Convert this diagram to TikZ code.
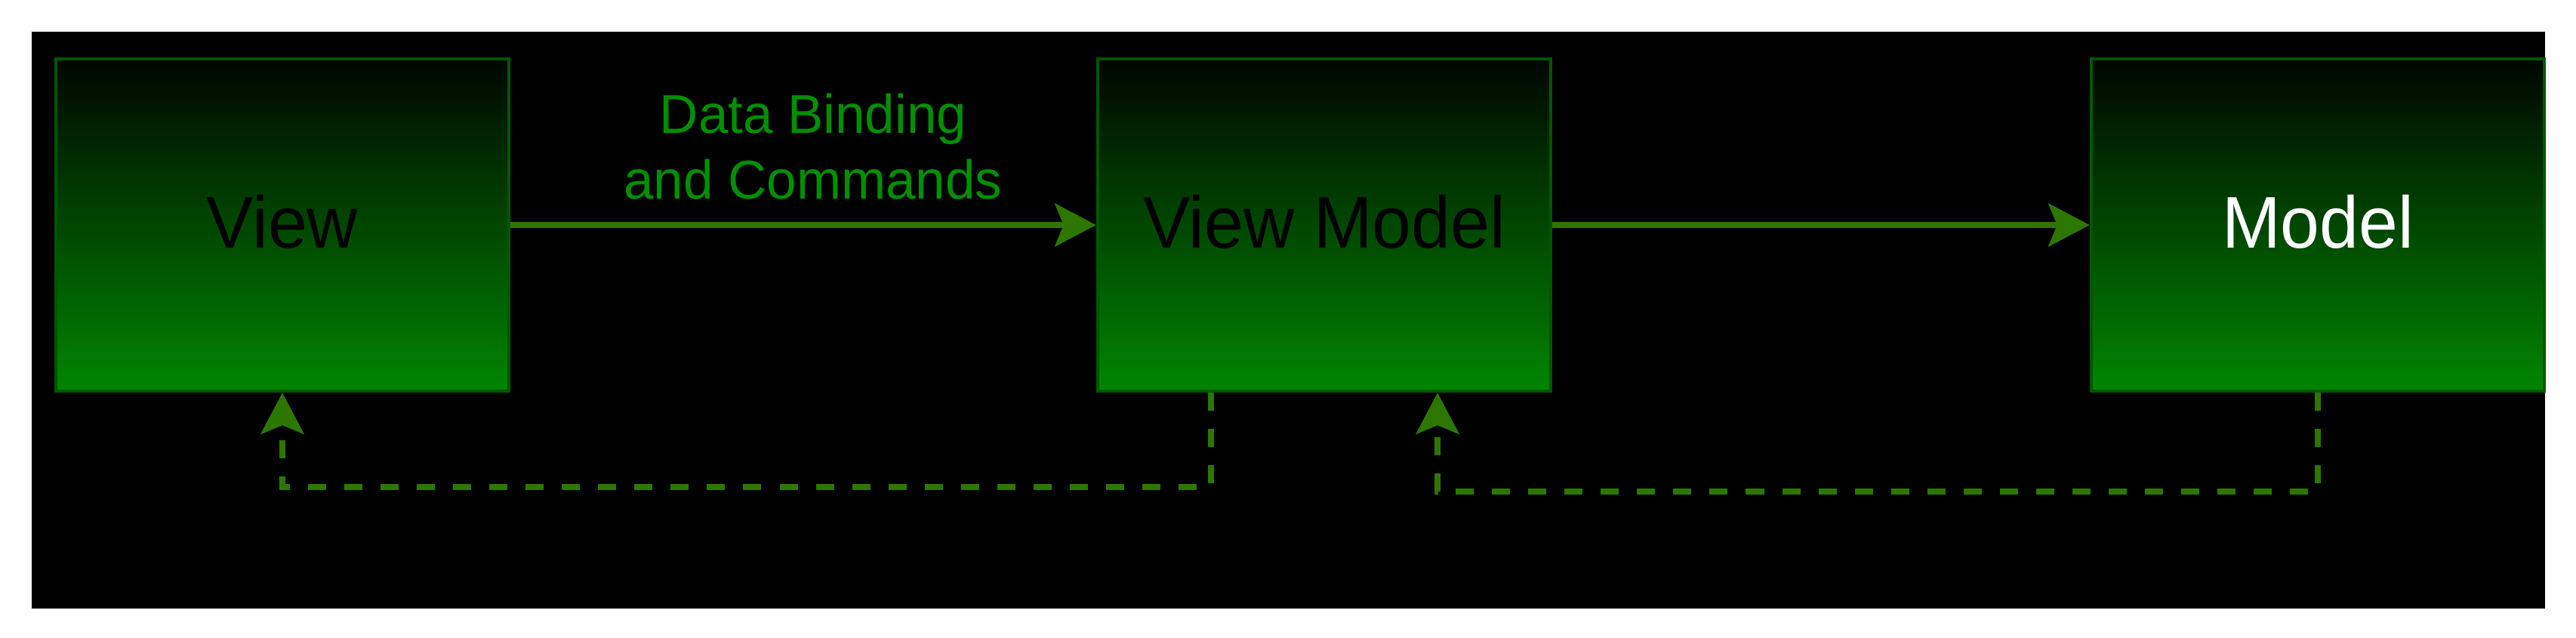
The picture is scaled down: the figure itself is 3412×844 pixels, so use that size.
\documentclass[tikz,border=0pt]{standalone}
\usepackage{fontspec}
\setmainfont{Liberation Sans}
\usetikzlibrary{arrows.meta}
\definecolor{boxedge}{RGB}{0,87,0}
\definecolor{boxtop}{RGB}{0,6,0}
\definecolor{boxbot}{RGB}{0,134,0}
\definecolor{arr}{RGB}{45,118,0}
\definecolor{lbl}{RGB}{0,143,0}
\begin{document}
\begin{tikzpicture}[x=0.01cm,y=-0.01cm,
 box/.style={draw=boxedge, line width=1.2pt, top color=boxtop, bottom color=boxbot,
   minimum width=6cm, minimum height=4.4cm, inner sep=0pt,
   text height=0.7cm, text depth=0.1cm,
   font=\fontsize{27.6}{32}\selectfont\addfontfeature{FakeStretch=0.96}},
 flow/.style={draw=arr, line width=2.2pt,
   -{Stealth[length=0.55cm,width=0.58cm,inset=0.12cm,line width=0.2pt]}},
 back/.style={flow, dash pattern=on 0.24cm off 0.24cm}]
\useasboundingbox (0,0) rectangle (3412,844);
\fill[white] (0,0) rectangle (3412,844);
\fill[black] (42,42) rectangle (3371,806);
\node[box] (view) at (374,298) {View};
\node[box] (vm) at (1754,298) {View Model};
\node[box, text=white] (model) at (3070,298) {Model};
\draw[flow] (view) -- (vm);
\draw[flow] (vm) -- (model);
\node[text=lbl, align=center, inner sep=0pt,
  font=\fontsize{20.6}{24.75}\selectfont\addfontfeature{FakeStretch=0.98}]
  (lab) at (1077,194) {Data Binding\\and Commands};
\draw[back] ([xshift=-1.5cm]vm.south) -- ++(0,125) -| (view.south);
\draw[back] (model.south) -- ++(0,131) -| ([xshift=1.5cm]vm.south);
\end{tikzpicture}
\end{document}
